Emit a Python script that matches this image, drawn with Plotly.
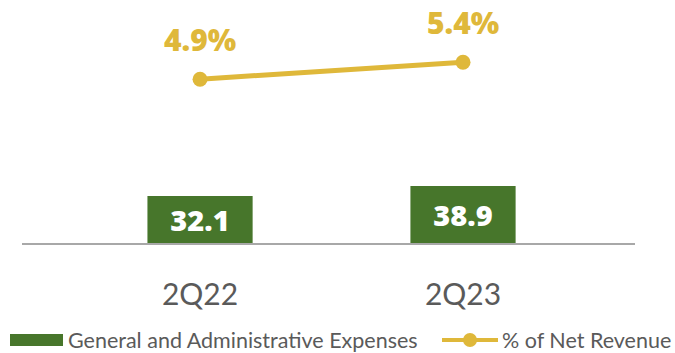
import plotly.graph_objects as go

# Quarterly data
quarters = ["2Q22", "2Q23"]
ga_expenses = [32.1, 38.9]          # R$ million
pct_net_revenue = [4.9, 5.4]        # %

bar_name = "General and Administrative Expenses"
line_name = "% of Net Revenue"

GREEN = "#47762B"
GOLD = "#DFB83A"
GRAY_TEXT = "#5A5A5A"
FONT = "Lato"
BOLD_FONT = "Open Sans"

W, H = 675, 353
L, R, T, B = 22, 40, 0, 110
PW, PH = W - L - R, H - T - B


def px_x(x):
    return (x - L) / PW


def px_y(y):
    return (H - B - y) / PH


fig = go.Figure()

fig.add_trace(go.Bar(
    x=quarters, y=ga_expenses, name=bar_name,
    marker=dict(color=GREEN, line=dict(width=0)),
    width=0.4,
    text=[f"{v:.1f}" for v in ga_expenses],
    textposition="inside", insidetextanchor="middle",
    textfont=dict(family=BOLD_FONT, size=29, color="white", weight=800),
    showlegend=False,
))

fig.add_trace(go.Scatter(
    x=quarters, y=pct_net_revenue, name=line_name, yaxis="y2",
    mode="lines+markers",
    line=dict(color=GOLD, width=5),
    marker=dict(color=GOLD, size=15),
    showlegend=False,
))

# Percentage labels above the line points
for q, v in zip(quarters, pct_net_revenue):
    fig.add_annotation(
        x=q, y=v, xref="x", yref="y2", text=f"{v:.1f}%",
        showarrow=False, yshift=40,
        font=dict(family=BOLD_FONT, size=30, color=GOLD, weight=800),
    )

# Legend drawn below the axis
leg_y = 340
fig.add_shape(type="rect", xref="paper", yref="paper",
              x0=px_x(10), x1=px_x(63), y0=px_y(leg_y + 6), y1=px_y(leg_y - 6),
              fillcolor=GREEN, line=dict(width=0))
fig.add_annotation(x=px_x(66), y=px_y(leg_y), xref="paper", yref="paper",
                   text=bar_name, showarrow=False, xanchor="left", yanchor="middle",
                   font=dict(family=FONT, size=21.5, color=GRAY_TEXT))
fig.add_shape(type="line", xref="paper", yref="paper",
              x0=px_x(442), x1=px_x(498), y0=px_y(leg_y), y1=px_y(leg_y),
              line=dict(color=GOLD, width=4))
fig.add_shape(type="circle", xref="paper", yref="paper",
              x0=px_x(463), x1=px_x(477), y0=px_y(leg_y + 7), y1=px_y(leg_y - 7),
              fillcolor=GOLD, line=dict(width=0))
fig.add_annotation(x=px_x(500), y=px_y(leg_y), xref="paper", yref="paper",
                   text=line_name, showarrow=False, xanchor="left", yanchor="middle",
                   font=dict(family=FONT, size=21.5, color=GRAY_TEXT))

fig.update_layout(
    width=W, height=H,
    margin=dict(l=L, r=R, t=T, b=B, pad=0),
    paper_bgcolor="white", plot_bgcolor="white",
    showlegend=False,
    xaxis=dict(
        type="category", range=[-0.677, 1.654],
        showline=True, linecolor="#A8A8A8", linewidth=2,
        showgrid=False, zeroline=False, ticks="",
        ticklabelstandoff=24,
        tickfont=dict(family=FONT, size=30, color=GRAY_TEXT),
    ),
    yaxis=dict(range=[0, 166], visible=False, showgrid=False, zeroline=False),
    yaxis2=dict(range=[0.08, 7.23], overlaying="y", visible=False,
                showgrid=False, zeroline=False),
)

fig.write_html("out.html")
